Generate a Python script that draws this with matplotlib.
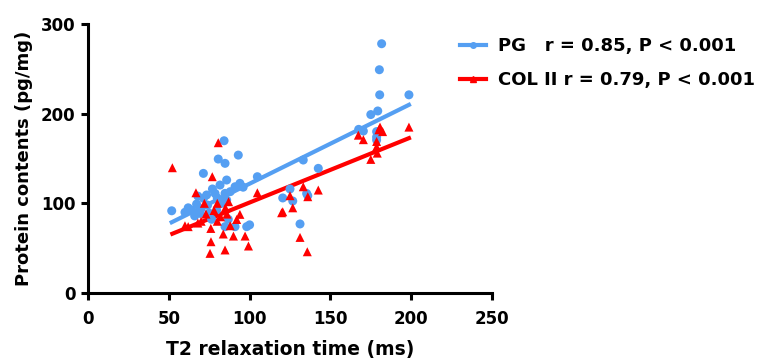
import numpy as np
import matplotlib
matplotlib.use("Agg")
import matplotlib.pyplot as plt
from matplotlib import rcParams
from matplotlib.lines import Line2D

# PG (blue circles)
pg_x = [181.7, 180.3, 180.5, 198.6, 175.0, 179.3, 167.5, 170.4, 178.6, 178.6, 178.6,
        133.2, 142.5, 125.0, 120.5, 126.7, 135.3, 136.0, 131.2, 104.8,
        84.2, 80.6, 84.8, 71.4, 93.0, 51.8, 81.7, 85.8, 73.4, 78.6, 71.4, 67.2, 64.1,
        69.3, 76.5, 79.6, 82.7, 85.8, 94.0, 91.0, 84.8, 86.8, 91.0, 84.8, 98.2, 82.7,
        60.0, 62.0, 66.0, 70.0, 74.0, 77.0, 80.0, 88.0, 75.0, 68.0, 96.0, 100.0]
pg_y = [278, 249, 221, 221, 199, 203, 182.5, 180.6, 180, 174, 170.6,
        148.3, 139, 116, 106, 102.6, 111, 108.5, 77, 129.7,
        169.8, 149.4, 144.6, 133.4, 153.8, 91.7, 120.4, 126, 109.3, 111.1, 105.6, 99.2, 92.5,
        88.8, 82.2, 92.5, 100, 103.7, 122.3, 118.5, 111.1, 82.2, 74, 74, 74, 101.8,
        90, 95, 86, 94, 98, 116, 106, 113, 89, 108, 118, 76]

# COL II (red triangles)
col_x = [198.6, 180.7, 180.0, 182.3, 167.3, 170.4, 178.6, 178.6, 179.0, 175.0,
         133.2, 142.5, 125.0, 136.0, 120.5, 126.7, 131.2, 135.7, 104.8, 119.8,
         80.6, 52.2, 76.9, 66.8, 76.1, 83.7, 75.5, 84.8, 62.0, 94.0, 90.0, 97.2, 99.3,
         87.0, 70.0, 73.0, 78.0, 80.0, 82.0, 85.0, 88.0, 76.0, 68.0, 92.0, 60.0, 72.0,
         80.0, 86.0]
col_y = [185, 185, 182, 180, 176, 171, 169, 163, 156, 149,
         118.5, 114.8, 108.5, 107.4, 90.6, 95, 62, 46, 111.8, 89.5,
         167.6, 139.7, 129.7, 111.8, 57.2, 65.8, 44.2, 48, 74, 87.7, 63.5, 63.5, 52.4,
         101.8, 80, 88, 92, 80, 85, 95, 75, 72, 78, 82, 75, 100,
         100, 88]

# fitted lines (slope, intercept)
pg_fit = (0.892, 32.7)
col_fit = (0.728, 28.1)

labels = ["PG   r = 0.85, P < 0.001", "COL II r = 0.79, P < 0.001"]

blue = "#559ff2"
red = "#ff0000"

rcParams["font.family"] = ["DejaVu Sans"]
rcParams["font.weight"] = "bold"

fig = plt.figure(figsize=(7.66, 3.6), dpi=100)
ax = fig.add_axes([88 / 766, 1 - 293 / 360, (492 - 88) / 766, (293 - 24) / 360])

for xs, ys, fit, col, mk in [(pg_x, pg_y, pg_fit, blue, "o"),
                             (col_x, col_y, col_fit, red, "^")]:
    xs = np.array(xs)
    ys = np.array(ys)
    ax.scatter(xs, ys, s=42, marker=mk, color=col, edgecolors="none", zorder=3)
    xl = np.array([xs.min(), xs.max()])
    ax.plot(xl, fit[0] * xl + fit[1], color=col, lw=3, zorder=2)

ax.set_xlim(0, 250)
ax.set_ylim(0, 300)
ax.set_xticks([0, 50, 100, 150, 200, 250])
ax.set_yticks([0, 100, 200, 300])
ax.spines["top"].set_visible(False)
ax.spines["right"].set_visible(False)
for s in ["left", "bottom"]:
    ax.spines[s].set_linewidth(2.2)
ax.tick_params(width=2.2, length=5, labelsize=12, pad=4)
ax.tick_params(axis="x", pad=7)
for t in ax.get_xticklabels() + ax.get_yticklabels():
    t.set_fontweight("bold")
ax.set_xlabel("T2 relaxation time (ms)", fontsize=13.5, fontweight="bold", labelpad=9)
ax.set_ylabel("Protein contents (pg/mg)", fontsize=13, fontweight="bold", labelpad=6)

handles = [Line2D([], [], color=blue, lw=3, marker="o", markersize=4),
           Line2D([], [], color=red, lw=3, marker="^", markersize=4)]
fig.legend(handles, labels, loc="upper left", bbox_to_anchor=(444 / 766, 1 - 21 / 360),
           frameon=False, handlelength=1.4, handletextpad=0.7,
           labelspacing=0.9, prop={"weight": "bold", "size": 13})

fig.savefig("out.png", dpi=100)
